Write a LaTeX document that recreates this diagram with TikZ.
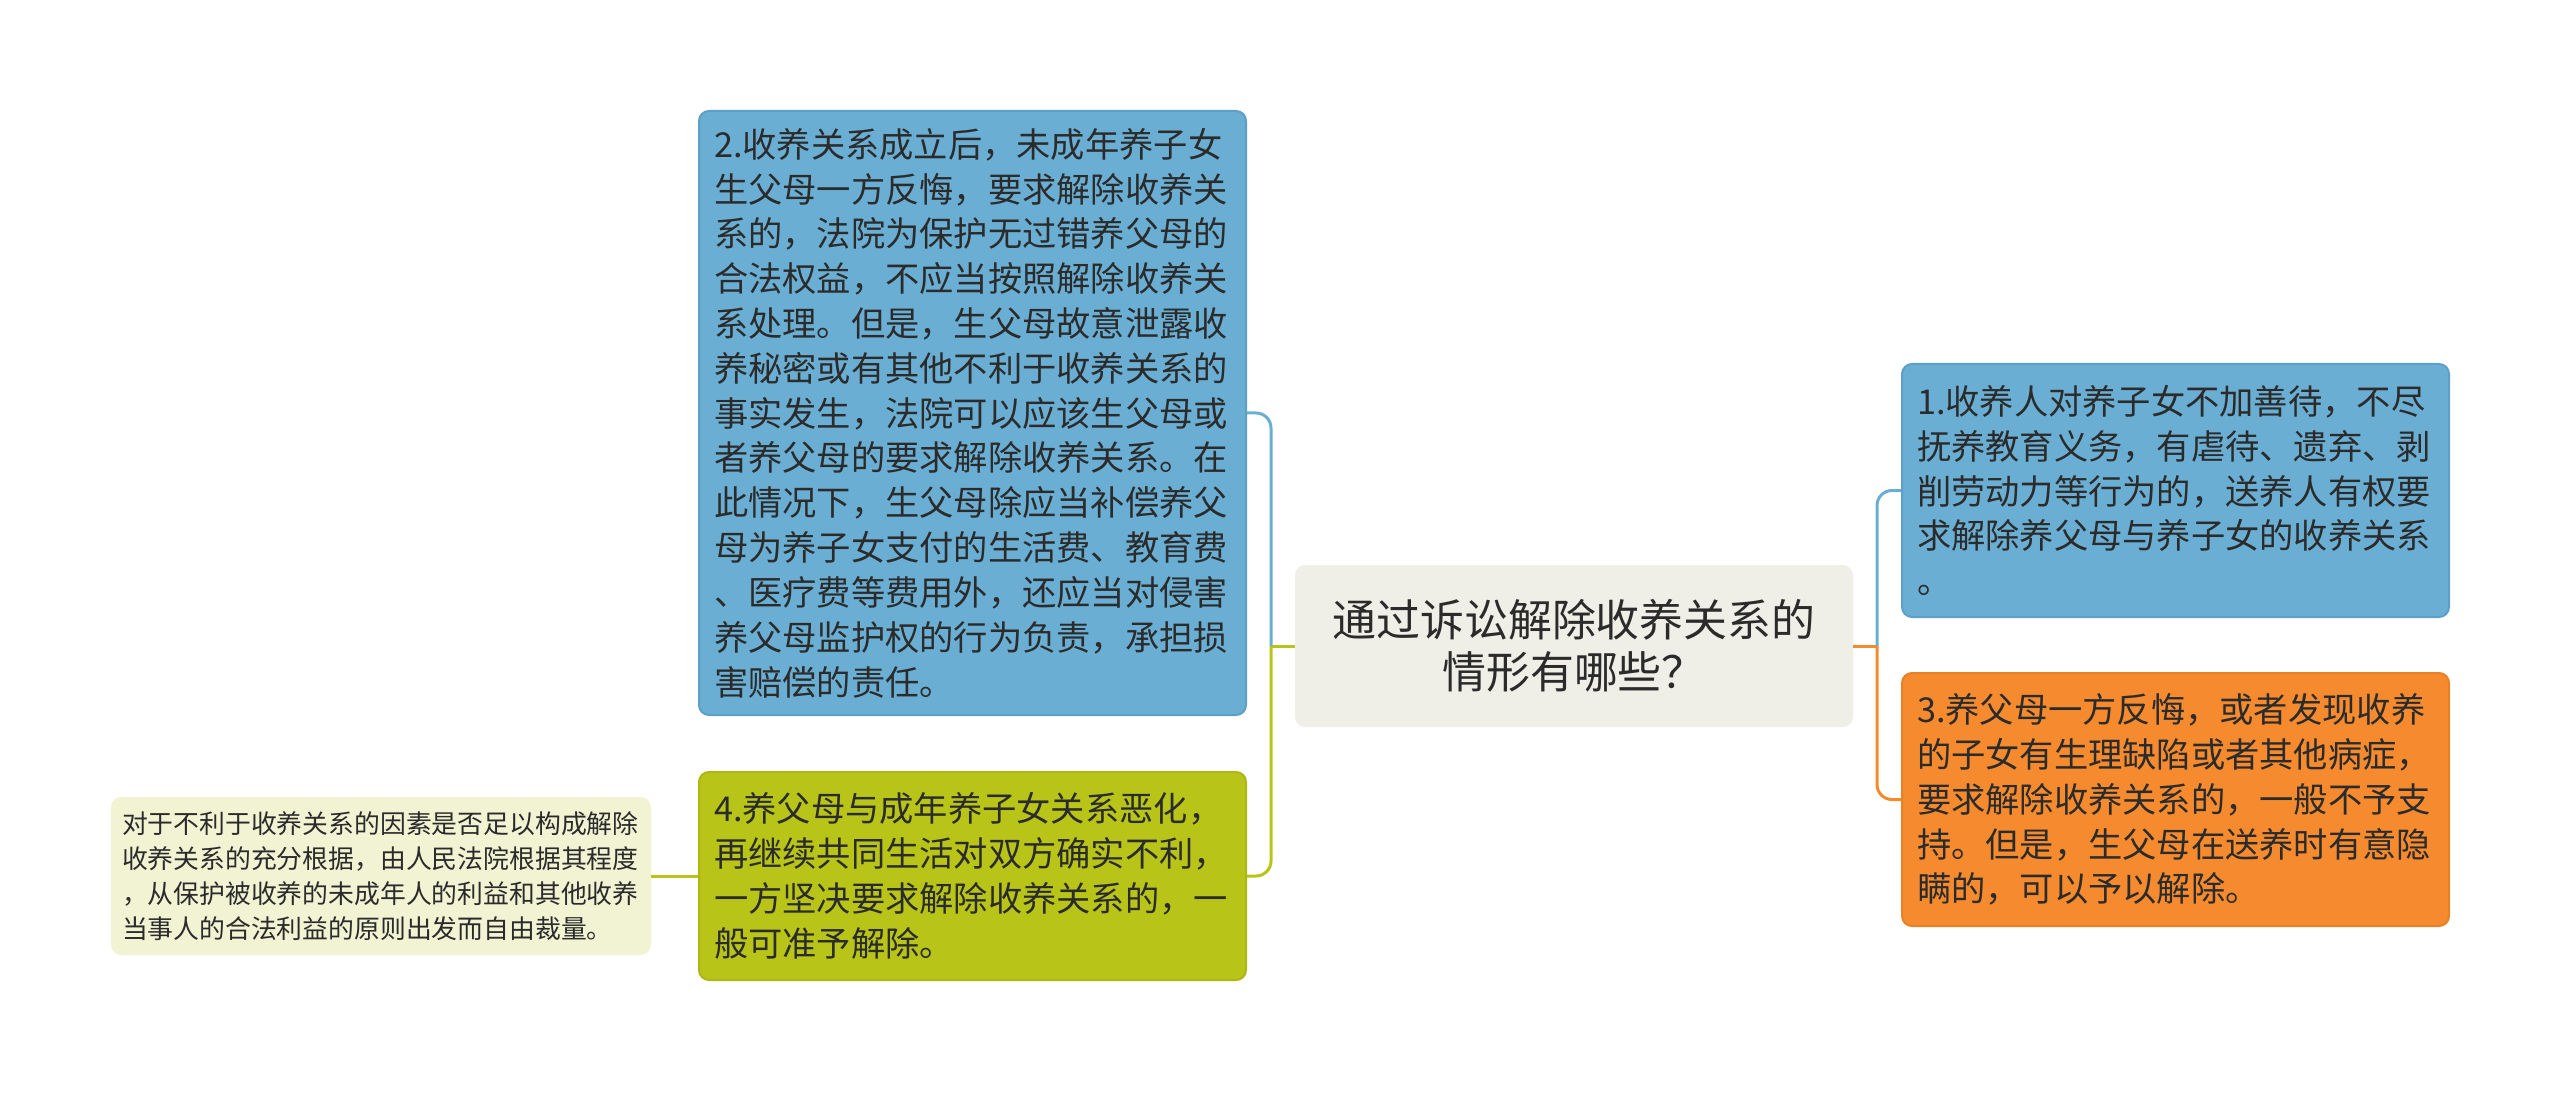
\documentclass[tikz,border=0pt]{standalone}
\usepackage{fontspec}
\setmainfont{Noto Sans CJK SC}
\usepackage{tikz}
\usetikzlibrary{positioning}
\usepackage{xcolor}
\definecolor{boxBlue}{RGB}{106,175,211}
\definecolor{boxBlueEdge}{RGB}{92,160,200}
\definecolor{boxGreen}{RGB}{185,196,24}
\definecolor{boxGreenEdge}{RGB}{172,183,20}
\definecolor{boxOrange}{RGB}{245,139,46}
\definecolor{boxOrangeEdge}{RGB}{232,128,38}
\definecolor{rootGrey}{RGB}{239,239,231}
\definecolor{noteYellow}{RGB}{241,243,211}
\definecolor{textDark}{RGB}{43,43,43}

\begin{document}
\begin{tikzpicture}[
        branch/.style={rounded corners=0.2cm, line width=0.04cm, text=textDark, align=left,
            inner xsep=0.3cm, text width=10.34cm, minimum width=10.94cm,
            font=\fontsize{19.5pt}{25.5pt}\selectfont},
        link/.style={line width=0.06cm, rounded corners=0.3cm}
    ]
        \useasboundingbox (0,0) rectangle (51.2,-21.86);
        % centre topic
        \node [rounded corners=0.2cm, fill=rootGrey, text=textDark, align=center,
            minimum width=11.16cm, minimum height=3.24cm,
            font=\fontsize{25pt}{29.7pt}\selectfont] (root) at (31.48,-12.92)
            {通过诉讼解除收养关系的\\情形有哪些？};
        \coordinate (jleft) at (25.42,-12.92);
        \coordinate (jright) at (37.54,-12.92);
        % left side
        \node [branch, fill=boxBlue, draw=boxBlueEdge, minimum height=12.08cm] (case2) at (19.45,-8.26)
            {2.收养关系成立后，未成年养子女\\
            生父母一方反悔，要求解除收养关\\
            系的，法院为保护无过错养父母的\\
            合法权益，不应当按照解除收养关\\
            系处理。但是，生父母故意泄露收\\
            养秘密或有其他不利于收养关系的\\
            事实发生，法院可以应该生父母或\\
            者养父母的要求解除收养关系。在\\
            此情况下，生父母除应当补偿养父\\
            母为养子女支付的生活费、教育费\\
            、医疗费等费用外，还应当对侵害\\
            养父母监护权的行为负责，承担损\\
            害赔偿的责任。};
        \node [branch, fill=boxGreen, draw=boxGreenEdge, minimum height=4.16cm] (case4) at (19.45,-17.52)
            {4.养父母与成年养子女关系恶化，\\
            再继续共同生活对双方确实不利，\\
            一方坚决要求解除收养关系的，一\\
            般可准予解除。};
        \node [rounded corners=0.2cm, fill=noteYellow, text=textDark, align=left,
            inner xsep=0.22cm, text width=10.36cm, minimum width=10.8cm, minimum height=3.16cm,
            font=\fontsize{14.7pt}{20pt}\selectfont] (note4) at (7.62,-17.52)
            {对于不利于收养关系的因素是否足以构成解除\\
            收养关系的充分根据，由人民法院根据其程度\\
            ，从保护被收养的未成年人的利益和其他收养\\
            当事人的合法利益的原则出发而自由裁量。};
        % right side
        \node [branch, fill=boxBlue, draw=boxBlueEdge, minimum height=5.06cm] (case1) at (43.51,-9.81)
            {1.收养人对养子女不加善待，不尽\\
            抚养教育义务，有虐待、遗弃、剥\\
            削劳动力等行为的，送养人有权要\\
            求解除养父母与养子女的收养关系\\
            。};
        \node [branch, fill=boxOrange, draw=boxOrangeEdge, minimum height=5.06cm] (case3) at (43.51,-15.99)
            {3.养父母一方反悔，或者发现收养\\
            的子女有生理缺陷或者其他病症，\\
            要求解除收养关系的，一般不予支\\
            持。但是，生父母在送养时有意隐\\
            瞒的，可以予以解除。};
        % connectors
        \draw [link, color=boxGreen] (root.west) -- (jleft);
        \draw [link, color=boxBlue] (jleft) |- (case2.east);
        \draw [link, color=boxGreen] (jleft) |- (case4.east);
        \draw [link, color=boxGreen] (case4.west) -- (note4.east);
        \draw [link, color=boxOrange] (root.east) -- (jright);
        \draw [link, color=boxBlue] (jright) |- (case1.west);
        \draw [link, color=boxOrange] (jright) |- (case3.west);
    \end{tikzpicture}
\end{document}
